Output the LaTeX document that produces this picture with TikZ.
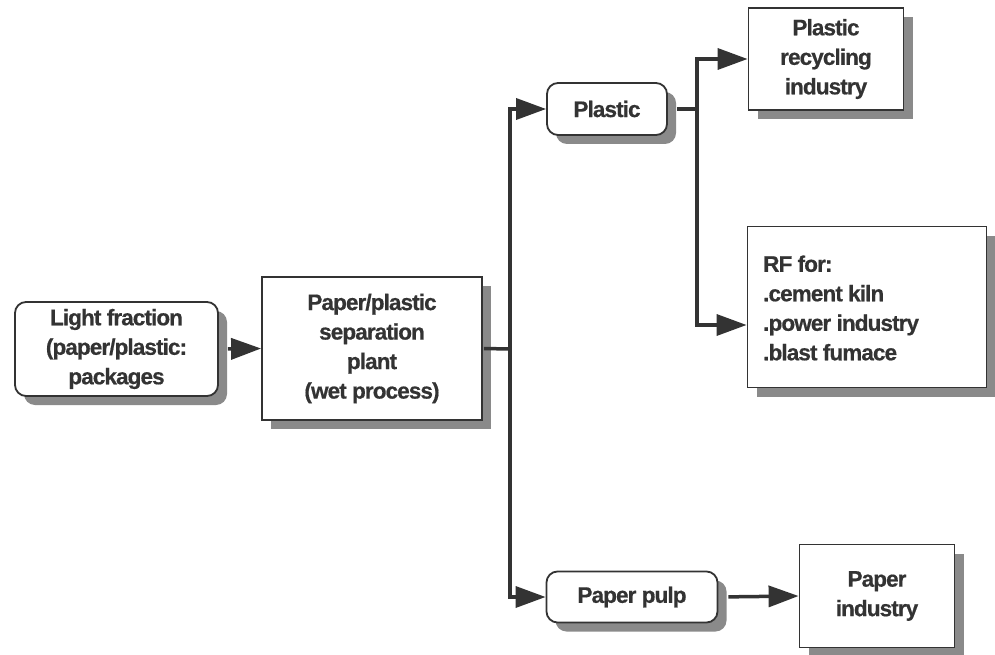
\documentclass[tikz,border=0pt]{standalone}
\usepackage{fontspec}
\setmainfont{Liberation Sans}[LetterSpace=-4,FakeBold=0.6]
\usetikzlibrary{arrows.meta,shadows,calc}
\definecolor{ink}{HTML}{333333}
\definecolor{shade}{HTML}{8A8A8A}
\begin{document}
\begin{tikzpicture}[x=1pt,y=-1pt,
  box/.style={draw=ink, line width=1.8pt, fill=white, text=ink,
    font=\fontsize{22.5}{29.5}\selectfont\bfseries, align=center, inner sep=0pt,
    drop shadow={shadow xshift=9pt, shadow yshift=-9pt, fill=shade, opacity=1}},
  rbox/.style={box, rounded corners=11pt},
  conn/.style={draw=ink, line width=3.5pt},
  arr/.style={conn, -{Triangle[length=30pt,width=21pt]}}]
\useasboundingbox (0,0) rectangle (995,655);

\node[rbox, minimum width=203pt, minimum height=94pt] (light) at (116.5,349)
  {Light fraction\\(paper/plastic:\\packages};
\node[box, minimum width=220pt, minimum height=143pt] (plant) at (372,348.5)
  {Paper/plastic\\separation\\plant\\(wet process)};
\node[rbox, minimum width=120pt, minimum height=52pt] (plastic) at (607,109) {Plastic};
\node[box, minimum width=155pt, minimum height=102pt] (recyc) at (826,59)
  {Plastic\\recycling\\industry};
\node[box, minimum width=239pt, minimum height=161pt] (rf) at (867,307) {};
\node[anchor=west, align=left, text=ink, inner sep=0pt,
  font=\fontsize{22.5}{29.5}\selectfont\bfseries] (rftext) at (763,308)
  {RF for:\\.cement kiln\\.power industry\\.blast fumace};
\node[rbox, minimum width=171pt, minimum height=51pt] (pulp) at (632,597) {Paper pulp};
\node[box, minimum width=155pt, minimum height=103pt] (paper) at (877,596)
  {Paper\\industry};

\coordinate (j1) at (510,349);
\coordinate (j2) at (697,109);

\draw[arr, shorten <=9pt] (light.east) -- (plant.west);
\draw[conn, shorten <=1pt] (plant.east) -- (j1);
\draw[arr] (j1) |- (plastic.west);
\draw[arr] (j1) |- (pulp.west);
\draw[conn, shorten <=9pt] (plastic.east) -- (j2);
\draw[arr] (j2) |- (recyc.west);
\draw[arr] (j2) |- ([yshift=-18pt]rf.west);
\draw[arr, shorten <=10pt] (pulp.east) -- (paper.west);
\end{tikzpicture}
\end{document}
